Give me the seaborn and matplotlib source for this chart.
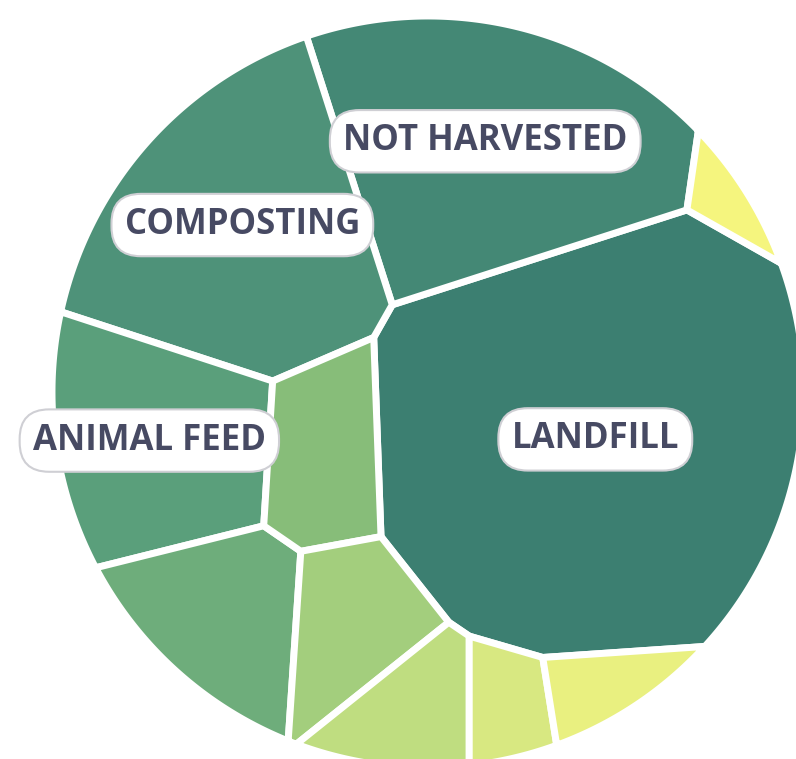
import numpy as np
import matplotlib
matplotlib.use("Agg")
import matplotlib.pyplot as plt
from matplotlib.patches import Polygon
import seaborn as sns

# food waste destinations (only the four biggest get a label)
categories = ["Landfill", "Not Harvested", "Composting", "Animal Feed",
              "Incineration", "Sewer", "Anaerobic Digestion", "Land Application",
              "Donation", "Dumping", "Other"]
values = [34.5, 17.0, 15.8, 9.4, 5.9, 4.5, 4.3, 3.3, 2.0, 1.9, 1.1]
labeled = ["Landfill", "Not Harvested", "Composting", "Animal Feed"]

# starting spots for each cell inside the circle (pixel space)
anchors = [(595, 440), (500, 145), (228, 232), (160, 440), (205, 620), (322, 450),
           (355, 630), (415, 705), (518, 705), (612, 690), (742, 180)]

cx, cy, R = 428.0, 392.0, 376.0

# circle as a polygon
t = np.linspace(0, 2 * np.pi, 720, endpoint=False)
circle = np.column_stack([cx + R * np.cos(t), cy + R * np.sin(t)])


def clip(poly, a, b):
    # keep the part of poly where a.p <= b
    out = []
    n = len(poly)
    for k in range(n):
        P = poly[k]
        Q = poly[(k + 1) % n]
        fp = a @ P - b
        fq = a @ Q - b
        if fp <= 0:
            out.append(P)
        if fp * fq < 0:
            s = fp / (fp - fq)
            out.append(P + s * (Q - P))
    return np.array(out) if out else np.zeros((0, 2))


def area_centroid(poly):
    if len(poly) < 3:
        return 0.0, None
    x, y = poly[:, 0], poly[:, 1]
    x2, y2 = np.roll(x, -1), np.roll(y, -1)
    c = x * y2 - x2 * y
    A = c.sum() / 2
    if abs(A) < 1e-9:
        return 0.0, None
    gx = ((x + x2) * c).sum() / (6 * A)
    gy = ((y + y2) * c).sum() / (6 * A)
    return abs(A), np.array([gx, gy])


def power_cells(seeds, w):
    cells = []
    for i in range(len(seeds)):
        poly = circle.copy()
        for j in range(len(seeds)):
            if i == j:
                continue
            a = 2 * (seeds[j] - seeds[i])
            b = seeds[j] @ seeds[j] - w[j] - seeds[i] @ seeds[i] + w[i]
            poly = clip(poly, a, b)
            if len(poly) == 0:
                break
        cells.append(poly)
    return cells


vals = np.array(values, dtype=float)
total_area = area_centroid(circle)[0]
target = vals / vals.sum() * total_area

# weights only, seeds stay put
seeds = np.array(anchors, dtype=float)
w = np.zeros(len(seeds))
for it in range(300):
    cells = power_cells(seeds, w)
    for i, poly in enumerate(cells):
        A, g = area_centroid(poly)
        w[i] += 0.5 * (target[i] - A) / np.pi
    w -= w.mean()

cells = power_cells(seeds, w)

colors = sns.blend_palette(["#3c7f71", "#4a8e78", "#5ea37c", "#86bd79",
                            "#b6d980", "#e0ec81", "#f5f57e"], n_colors=len(values))

sns.set_theme(style="white")
fig = plt.figure(figsize=(7.96, 7.59), dpi=100)
ax = fig.add_axes([0, 0, 1, 1])
ax.set_xlim(0, 796)
ax.set_ylim(759, 0)
ax.set_aspect("equal")
ax.axis("off")

for i, poly in enumerate(cells):
    if len(poly) < 3:
        continue
    ax.add_patch(Polygon(poly, closed=True, facecolor=colors[i],
                         edgecolor="white", linewidth=5, joinstyle="round"))

# small nudges so the pills sit where the original put them
label_shift = {"Not Harvested": (-8, -4), "Landfill": (2, 0),
               "Composting": (4, -5), "Animal Feed": (-6, -2)}

for i, name in enumerate(categories):
    if name not in labeled:
        continue
    A, g = area_centroid(cells[i])
    dx, dy = label_shift.get(name, (0, 0))
    ax.text(g[0] + dx, g[1] + dy, name.upper(), ha="center", va="center",
            fontsize=25, fontweight="bold", family=["Open Sans", "DejaVu Sans"],
            color="#474a63",
            bbox=dict(boxstyle="round,pad=0.38,rounding_size=0.85",
                      fc="white", ec="#cfcfd4", lw=1.5))

fig.savefig("out.png", dpi=100, facecolor="white")
